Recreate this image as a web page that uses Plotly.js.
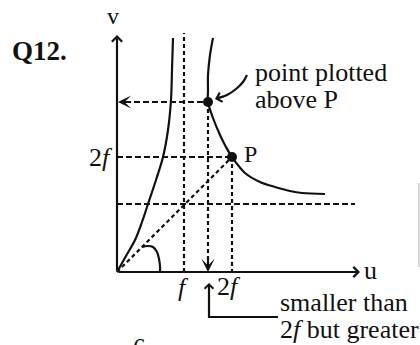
<!DOCTYPE html>
<html>
<head>
<meta charset="utf-8">
<script src="https://cdn.plot.ly/plotly-3.0.1.min.js"></script>
<style>
  html, body { margin: 0; padding: 0; background: #fff; }
  #chart { width: 420px; height: 345px; }
</style>
</head>
<body>
<div id="chart"></div>
<script>
// u–v graph for a converging lens / mirror (graph units, origin at the axes' corner)
const F_U = 67;          // u position marked f
const MID_U = 91;        // u of the point plotted above P
const TWO_F_U = 115;     // u position marked 2f
const TWO_F_V = 115;     // v level marked 2f
const PLOTTED_V = 170;   // v of the point plotted above P
const F_V = 68;          // v = f asymptote
const V_AXIS_TOP = 237;
const U_AXIS_END = 243;
const GUIDE_TOP = 239;
const F_LINE_END = 238;

// branch rising from the origin towards u = f
const LEFT_U = [0, 9, 18, 25, 31, 39, 46, 51, 54, 55, 56];
const LEFT_V = [0, 16, 32, 50, 68, 92, 115, 142, 172, 202, 234];

// real-image branch through the plotted point and P
const RIGHT_U = [96, 93, 91, 91, 91, 96, 103, 109, 115, 128, 143, 158, 173, 185, 208];
const RIGHT_V = [234, 217, 197, 182, 170, 154, 137, 125, 115, 99, 90, 85, 81, 79, 78];

// angle mark at the origin
const ARC_U = [25, 31, 36, 40, 42, 43, 43];
const ARC_V = [25, 26, 25, 20, 13, 6, 0];

// curved pointer from the note to the plotted point
const POINTER_U = [130, 126, 119, 110, 101];
const POINTER_V = [197, 190, 183, 177, 174];

// bracket under the u axis
const BRACKET_U = [92, 92, 161];
const BRACKET_V = [-14, -45, -45];

// plotted points
const DOT_U = [MID_U, TWO_F_U];
const DOT_V = [PLOTTED_V, TWO_F_V];

const INK = '#111';
const SERIF = 'Liberation Serif, Times New Roman, serif';

function seg(u, v, dash, width, shape) {
  return {
    x: u, y: v, mode: 'lines', hoverinfo: 'skip',
    line: { color: INK, width: width || 2.2, dash: dash || 'solid', shape: shape || 'linear' }
  };
}

const traces = [
  // dashed construction lines
  seg([F_U, F_U], [0, GUIDE_TOP], '4px,3px'),
  seg([MID_U, MID_U], [PLOTTED_V, 8], '4px,3px'),
  seg([TWO_F_U, TWO_F_U], [TWO_F_V, 0], '4px,3px'),
  seg([0, TWO_F_U], [TWO_F_V, TWO_F_V], '6px,3px'),
  seg([8, MID_U], [PLOTTED_V, PLOTTED_V], '6px,3px'),
  seg([0, F_LINE_END], [F_V, F_V], '6px,3px'),
  seg([0, TWO_F_U], [0, TWO_F_V], '4px,3px'),
  // curves
  seg(LEFT_U, LEFT_V, 'solid', 2.2, 'spline'),
  seg(RIGHT_U, RIGHT_V, 'solid', 2.2, 'spline'),
  seg(ARC_U, ARC_V, 'solid', 2.2, 'spline'),
  seg(POINTER_U, POINTER_V, 'solid', 2.2, 'spline'),
  seg(BRACKET_U, BRACKET_V, 'solid', 2.2),
  // faint edge rule on the right
  { x: [302, 302], y: [89, 5], mode: 'lines', hoverinfo: 'skip',
    line: { color: '#c8c8c8', width: 1.5 } },
  // points
  { x: DOT_U, y: DOT_V, mode: 'markers', hoverinfo: 'skip',
    marker: { color: INK, size: 10 } }
];

function arrow(x, y, ax, ay, head, size, width) {
  return {
    x: x, y: y, ax: ax, ay: ay, xref: 'x', yref: 'y', axref: 'x', ayref: 'y',
    text: '', showarrow: true, arrowhead: head, arrowsize: size,
    arrowwidth: width || 2, arrowcolor: INK, standoff: 0, startstandoff: 0
  };
}

function label(text, x, y, size, xanchor, extra) {
  return Object.assign({
    x: x, y: y, xref: 'x', yref: 'y', text: text, showarrow: false,
    xanchor: xanchor || 'center', yanchor: 'middle',
    font: { family: SERIF, size: size, color: INK }
  }, extra || {});
}

const annotations = [
  // axes with open arrowheads
  arrow(0, V_AXIS_TOP, 0, 0, 4, 0.9, 2.2),
  arrow(U_AXIS_END, 0, 0, 0, 4, 0.9, 2.2),
  // arrows on the construction lines
  arrow(1, PLOTTED_V, 14, PLOTTED_V, 3, 1.1, 2),
  arrow(MID_U, 0, MID_U, 14, 3, 1.1, 2),
  arrow(92, -11, 92, -22, 4, 0.85, 2),
  arrow(98, 173, 108, 176, 4, 0.95, 2),
  // texts
  label('<b>Q12.</b>', -107, 221, 27, 'left'),
  label('v', -4, 256, 24),
  label('u', 253, 2, 26),
  label('2<i>f</i>', -2, TWO_F_V, 26, 'right'),
  label('P', 133, 118, 24),
  label('<i>f</i>', F_U - 1, -15, 26),
  label('2<i>f</i>', 112, -14, 26),
  label('point plotted', 136, 200, 26, 'left'),
  label('above P', 136, 173, 26, 'left'),
  label('smaller than', 161, -30, 26, 'left'),
  label('2<i>f</i> but greater', 161, -57, 26, 'left'),
  label('6', 22, -60, 25, 'center', { yanchor: 'top' })
];

const layout = {
  width: 420, height: 345,
  margin: { l: 0, r: 0, t: 0, b: 0, pad: 0 },
  paper_bgcolor: '#fff', plot_bgcolor: '#fff',
  showlegend: false,
  xaxis: { range: [-117, 303], visible: false, fixedrange: true },
  yaxis: { range: [-73, 272], visible: false, fixedrange: true },
  annotations: annotations
};

Plotly.newPlot('chart', traces, layout, { staticPlot: true, displayModeBar: false });
</script>
</body>
</html>
